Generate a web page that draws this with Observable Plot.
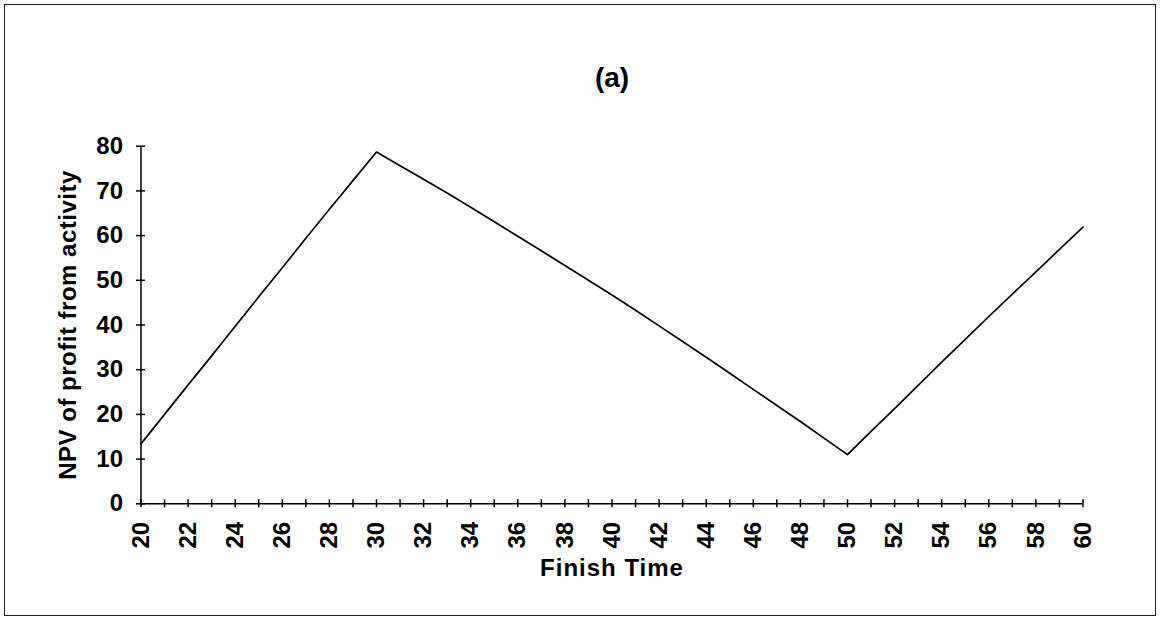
<!DOCTYPE html>
<html>
<head>
<meta charset="utf-8">
<script src="https://cdn.jsdelivr.net/npm/d3@7"></script>
<script src="https://cdn.jsdelivr.net/npm/@observablehq/plot@0.6"></script>
<style>
  html, body { margin: 0; padding: 0; background: #fff; }
  #wrap { position: relative; width: 1160px; height: 618px; overflow: hidden; }
  #border { position: absolute; left: 4px; top: 4px; width: 1152px; height: 612px; box-sizing: border-box; border: 1.5px solid #222; pointer-events: none; }
  #chart { position: absolute; left: 0; top: 0; }
</style>
</head>
<body>
<div id="wrap"><div id="chart"></div><div id="border"></div></div>
<script>
// ---- data ----
const title = "(a)";
const xTitle = "Finish Time";
const yTitle = "NPV of profit from activity";
const finishTime = [20,21,22,23,24,25,26,27,28,29,30,31,32,33,34,35,36,37,38,39,40,41,42,43,44,45,46,47,48,49,50,51,52,53,54,55,56,57,58,59,60];
const npv = [13.4,20.0,26.6,33.1,39.7,46.3,52.8,59.4,65.9,72.3,78.7,75.65,72.6,69.55,66.35,63.1,59.85,56.6,53.3,50.0,46.7,43.3,39.8,36.3,32.8,29.2,25.6,22.0,18.4,14.7,11.0,16.2,21.3,26.5,31.7,36.8,41.9,46.9,51.9,56.9,61.9];
const yTicks = [0,10,20,30,40,50,60,70,80];
const xLabelTicks = [20,22,24,26,28,30,32,34,36,38,40,42,44,46,48,50,52,54,56,58,60];
const xMinorTicks = finishTime;

const rows = finishTime.map((t, i) => ({t, v: npv[i]}));
const xDomain = [xLabelTicks[0], xLabelTicks[xLabelTicks.length - 1]];
const yDomain = [yTicks[0], yTicks[yTicks.length - 1]];

const font = "'Liberation Sans', Arial, Helvetica, sans-serif";

const chart = Plot.plot({
  width: 1160,
  height: 618,
  marginLeft: 140.5,
  marginRight: 77.5,
  marginTop: 145.7,
  marginBottom: 114.7,
  style: {fontFamily: font, fontSize: "24px", color: "#000", background: "transparent", overflow: "visible"},
  x: {domain: xDomain, axis: null},
  y: {domain: yDomain, axis: null},
  marks: [
    // axis lines
    Plot.ruleX([xDomain[0]], {y1: yDomain[0], y2: yDomain[1], stroke: "#000", strokeWidth: 1.5}),
    Plot.ruleY([yDomain[0]], {x1: xDomain[0], x2: xDomain[1], stroke: "#000", strokeWidth: 1.5}),
    // crossing tick marks
    Plot.ruleY(yTicks, {x1: xDomain[0], x2: xDomain[0], insetLeft: -4.5, insetRight: -4.5, stroke: "#000", strokeWidth: 1.5}),
    Plot.ruleX(xMinorTicks, {y1: yDomain[0], y2: yDomain[0], insetTop: -4, insetBottom: -4, stroke: "#000", strokeWidth: 1.5}),
    // tick labels
    Plot.axisY({ticks: yTicks, tickSize: 0, tickPadding: 18, fontSize: 24, fontWeight: "bold", label: null}),
    Plot.axisX({ticks: xLabelTicks, tickSize: 0, tickPadding: 18, tickRotate: -90, fontSize: 24, fontWeight: "bold", label: null, tickFormat: d => String(d)}),
    // data line
    Plot.line(rows, {x: "t", y: "v", stroke: "#000", strokeWidth: 1.7}),
    // titles
    Plot.text([title], {frameAnchor: "top", dy: -68, fontSize: 28, fontWeight: "bold", lineAnchor: "middle", textAnchor: "middle"}),
    Plot.text([xTitle], {frameAnchor: "bottom", dy: 65, fontSize: 24, fontWeight: "bold", lineAnchor: "middle", textAnchor: "middle"}),
    Plot.text([yTitle], {frameAnchor: "left", dx: -73, rotate: -90, fontSize: 24, fontWeight: "bold", lineAnchor: "middle", textAnchor: "middle"})
  ]
});
document.getElementById("chart").appendChild(chart);
d3.select(chart).selectAll("text").each(function() {
  const s = this.textContent;
  if (s === xTitle) this.setAttribute("letter-spacing", "1px");
  if (s === yTitle) this.setAttribute("letter-spacing", "0.5px");
});
</script>
</body>
</html>
